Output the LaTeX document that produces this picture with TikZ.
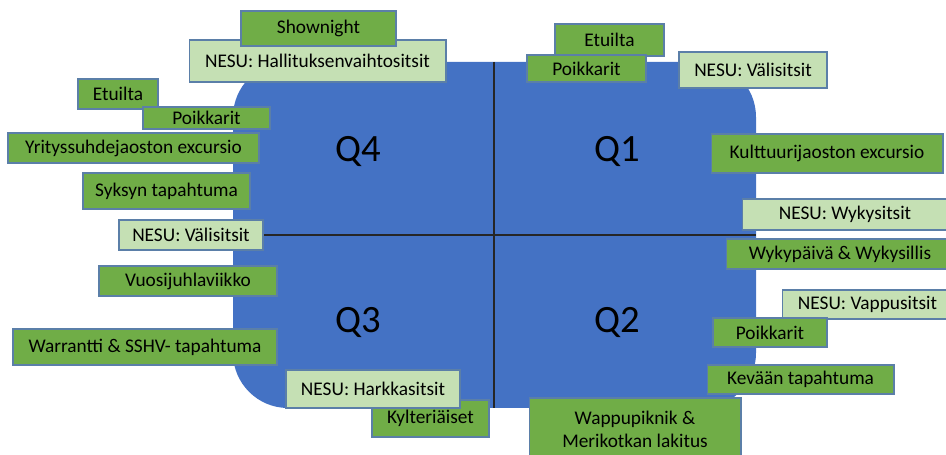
\documentclass[tikz,border=0pt]{standalone}
\usepackage{fontspec}
\setmainfont{Carlito}
\usepackage{xcolor}
\usetikzlibrary{calc}

\definecolor{quarterblue}{HTML}{4472C4}
\definecolor{eventgreen}{HTML}{70AD47}
\definecolor{nesugreen}{HTML}{C5E0B4}
\definecolor{boxline}{HTML}{5B7FA8}

\tikzset{
	quarter/.style = {fill = quarterblue, draw = none, rounded corners = 1.1cm},
	divider/.style = {draw = black!85, line width = 0.6pt},
	qlabel/.style = {font = \fontsize{22}{26}\selectfont},
	evt/.style = {draw = boxline, line width = 0.6pt, fill = eventgreen, inner sep = 0pt,
		font = \fontsize{11}{13}\selectfont, align = center},
	nesu/.style = {evt, fill = nesugreen}
}

\begin{document}
\begin{tikzpicture}[x = 0.02cm, y = -0.02cm]
	\useasboundingbox (0,0) rectangle (946,455);

	% the year, split into quarters
	\draw[quarter] (233,62) rectangle (756,408);

	\coordinate (vtop) at (494,62);
	\coordinate (vbot) at (494,408);
	\coordinate (hleft) at (233,235);
	\coordinate (hright) at (756,235);
	\draw[divider] (vtop) -- (vbot);
	\draw[divider] (hleft) -- (hright);

	\node[qlabel] (q4) at (358,152) {Q4};
	\node[qlabel] (q1) at (617,152) {Q1};
	\node[qlabel] (q3) at (358,323) {Q3};
	\node[qlabel] (q2) at (617,323) {Q2};

	% Q4
	\begin{scope}
		\node[nesu, minimum width = 5.14cm, minimum height = 0.84cm] (hallitus) at (317.5,61) {NESU: Hallituksenvaihtositsit};
		\node[evt, minimum width = 3.1cm, minimum height = 0.7cm] (shownight) at (318.5,28.5) {Shownight};
		\node[evt, minimum width = 1.6cm, minimum height = 0.6cm] (etuiltaL) at (118,94) {Etuilta};
		\node[evt, minimum width = 2.54cm, minimum height = 0.44cm] (poikkaritL) at (206.5,118) {Poikkarit};
		\node[evt, minimum width = 5.02cm, minimum height = 0.6cm] (yritys) at (133.5,148) {Yrityssuhdejaoston excursio};
		\node[evt, minimum width = 3.34cm, minimum height = 0.72cm] (syksy) at (166.5,191) {Syksyn tapahtuma};
		\node[nesu, minimum width = 2.88cm, minimum height = 0.6cm] (valiL) at (191,235) {NESU: Välisitsit};
	\end{scope}

	% Q3
	\begin{scope}
		\node[evt, minimum width = 3.56cm, minimum height = 0.6cm] (vuosi) at (188,281) {Vuosijuhlaviikko};
		\node[evt, minimum width = 5.28cm, minimum height = 0.72cm] (warrantti) at (145,347) {Warrantti \& SSHV- tapahtuma};
		\node[evt, minimum width = 2.34cm, minimum height = 0.74cm] (kylt) at (430.5,418.5) {Kylteriäiset};
		\node[nesu, minimum width = 3.48cm, minimum height = 0.76cm] (harkka) at (373,389) {NESU: Harkkasitsit};
	\end{scope}

	% Q1
	\begin{scope}
		\node[evt, minimum width = 2.18cm, minimum height = 0.64cm] (etuiltaR) at (609.5,40) {Etuilta};
		\node[evt, minimum width = 2.38cm, minimum height = 0.54cm] (poikkaritR) at (586.5,68.5) {Poikkarit};
		\node[nesu, minimum width = 2.96cm, minimum height = 0.72cm] (valiR) at (753,70) {NESU: Välisitsit};
		\node[evt, minimum width = 4.64cm, minimum height = 0.78cm] (kulttuuri) at (827,153.5) {Kulttuurijaoston excursio};
		\node[nesu, minimum width = 4.12cm, minimum height = 0.62cm] (wyky) at (845,214.5) {NESU: Wykysitsit};
	\end{scope}

	% Q2
	\begin{scope}
		\node[evt, minimum width = 4.56cm, minimum height = 0.6cm] (wykypaiva) at (840,254) {Wykypäivä \& Wykysillis};
		\node[nesu, minimum width = 3.42cm, minimum height = 0.58cm] (vappu) at (867.5,304.5) {NESU: Vappusitsit};
		\node[evt, minimum width = 2.28cm, minimum height = 0.58cm] (poikkaritQ2) at (770,332.5) {Poikkarit};
		\node[evt, minimum width = 3.74cm, minimum height = 0.58cm] (kevat) at (800.5,379.5) {Kevään tapahtuma};
		\node[evt, minimum width = 4.24cm, minimum height = 1.24cm] (wappu) at (635,429) {Wappupiknik \&\\Merikotkan lakitus};
	\end{scope}
\end{tikzpicture}
\end{document}
